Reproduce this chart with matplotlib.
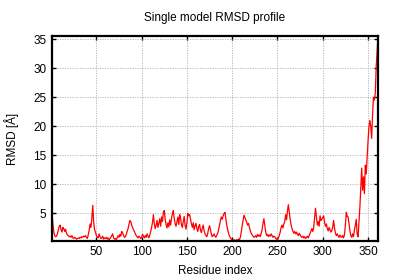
import numpy as np
import matplotlib
matplotlib.use("Agg")
import matplotlib.pyplot as plt

plt.rcParams['font.family'] = ['Liberation Sans', 'DejaVu Sans']

title = "Single model RMSD profile"
xlabel = "Residue index"
ylabel = "RMSD [Å]"
xticks = [50, 100, 150, 200, 250, 300, 350]
yticks = [5, 10, 15, 20, 25, 30, 35]

rmsd = [
    5.0, 3.2, 1.8, 1.2, 1.0, 1.1, 1.5, 2.2, 2.8, 3.0,
    2.2, 1.8, 2.6, 2.4, 1.9, 2.3, 1.6, 1.3, 1.2, 1.0,
    1.1, 0.9, 1.2, 0.8, 0.7, 0.9, 0.8, 0.6, 0.7, 0.8,
    0.7, 0.9, 0.8, 1.0, 0.9, 1.1, 1.0, 1.2, 0.9, 0.7,
    1.3, 2.1, 3.2, 2.6, 4.2, 6.4, 3.5, 2.2, 1.8, 1.2,
    0.9, 0.8, 1.5, 1.0, 0.7, 0.8, 1.1, 0.6, 0.8, 0.7,
    0.9, 0.6, 0.8, 0.5, 0.7, 0.9, 1.2, 1.5, 0.8, 0.6,
    0.7, 0.5, 0.8, 1.2, 0.9, 1.4, 1.1, 1.9, 1.7, 1.2,
    0.9, 1.0, 1.4, 1.9, 2.4, 3.1, 3.8, 3.6, 3.0, 2.6,
    2.2, 1.9, 1.5, 1.2, 1.0, 0.8, 1.1, 0.9, 0.7, 0.9,
    1.4, 1.1, 0.8, 1.2, 0.9, 1.5, 1.1, 0.8, 1.3, 1.9,
    2.6, 3.5, 4.8, 3.2, 2.4, 3.0, 3.8, 2.6, 3.3, 4.1,
    2.8, 4.4, 3.6, 5.2, 5.5, 4.0, 3.1, 2.5, 3.4, 2.7,
    3.9, 3.0, 4.2, 5.0, 5.5, 4.1, 3.2, 2.8, 3.6, 4.4,
    3.1, 4.8, 4.2, 3.0, 2.6, 3.7, 4.5, 2.9, 2.3, 3.5,
    5.0, 4.6, 4.8, 4.0, 3.2, 2.6, 3.4, 2.2, 2.9, 3.3,
    2.4, 1.9, 2.8, 3.1, 2.1, 1.7, 2.5, 3.0, 2.0, 1.5,
    1.2, 1.0, 1.6, 2.4, 2.9, 2.2, 1.4, 1.0, 1.2, 1.5,
    1.1, 0.9, 1.3, 1.6, 2.2, 3.0, 3.8, 4.4, 4.0, 4.6,
    5.0, 5.2, 4.1, 3.0, 2.2, 1.6, 1.1, 0.8, 0.6, 0.5,
    0.4, 0.5, 0.4, 0.3, 0.5, 0.4, 0.6, 0.5, 0.9, 1.8,
    2.9, 3.8, 4.7, 4.3, 3.9, 3.5, 3.0, 3.3, 2.6, 2.0,
    1.6, 1.3, 1.1, 0.9, 1.0, 1.2, 0.9, 1.4, 1.1, 1.3,
    1.0, 1.6, 2.2, 3.3, 4.1, 3.0, 1.8, 1.2, 1.4, 1.0,
    1.3, 1.1, 1.5, 1.2, 0.9, 1.1, 1.0, 0.7, 0.6, 0.5,
    0.8, 1.2, 1.8, 2.6, 3.0, 2.5, 3.2, 3.6, 4.8, 3.9,
    5.4, 6.5, 5.2, 4.0, 3.1, 2.4, 2.0, 1.6, 1.9, 1.5,
    1.8, 1.4, 1.2, 1.6, 1.3, 1.0, 0.9, 1.1, 0.8, 1.0,
    0.7, 0.9, 1.1, 0.8, 1.2, 1.6, 2.0, 2.4, 1.9, 2.6,
    4.2, 5.9, 4.4, 3.0, 3.6, 2.8, 4.6, 3.8, 4.0, 4.3,
    4.6, 3.5, 2.8, 3.2, 2.4, 2.0, 2.6, 2.2, 1.8, 2.0,
    2.7, 3.8, 2.5, 1.6, 1.2, 1.5, 1.1, 0.9, 1.3, 1.0,
    0.9, 1.2, 0.8, 1.4, 3.0, 5.2, 4.5, 4.4, 3.2, 2.0,
    1.2, 0.9, 1.5, 1.0, 2.2, 3.0, 4.0, 1.4, 1.0, 3.5,
    6.1, 9.5, 12.8, 9.0, 11.3, 8.4, 13.3, 11.8, 14.7, 17.5,
    19.9, 21.0, 20.0, 17.9, 22.0, 25.0, 24.5, 25.7, 30.2, 33.0, 35.5,
]
residues = np.arange(1, len(rmsd) + 1)

fig = plt.figure(figsize=(4.0, 2.8), dpi=100)
ax = fig.add_axes([0.13, 0.14, 0.815, 0.731])

ax.plot(residues, rmsd, color='#ff0000', linewidth=0.9)

ax.set_xlim(residues[0], residues[-1])
ax.set_ylim(min(rmsd), max(rmsd))
ax.set_xticks(xticks)
ax.set_yticks(yticks)

ax.grid(True, color='#b0b0b0', linestyle=(0, (1.5, 1.5)), linewidth=0.6)
ax.set_axisbelow(True)
ax.tick_params(direction='in', length=3, width=1, top=True, right=True,
               labelsize=8.5, pad=4, labeltop=False, labelright=False)
for s in ax.spines.values():
    s.set_linewidth(1.6)
    s.set_color('black')

ax.set_title(title, fontsize=8.5, pad=11)
ax.set_xlabel(xlabel, fontsize=8.5, labelpad=5)
ax.set_ylabel(ylabel, fontsize=8.5, labelpad=10)

fig.savefig("out.png", dpi=100)
